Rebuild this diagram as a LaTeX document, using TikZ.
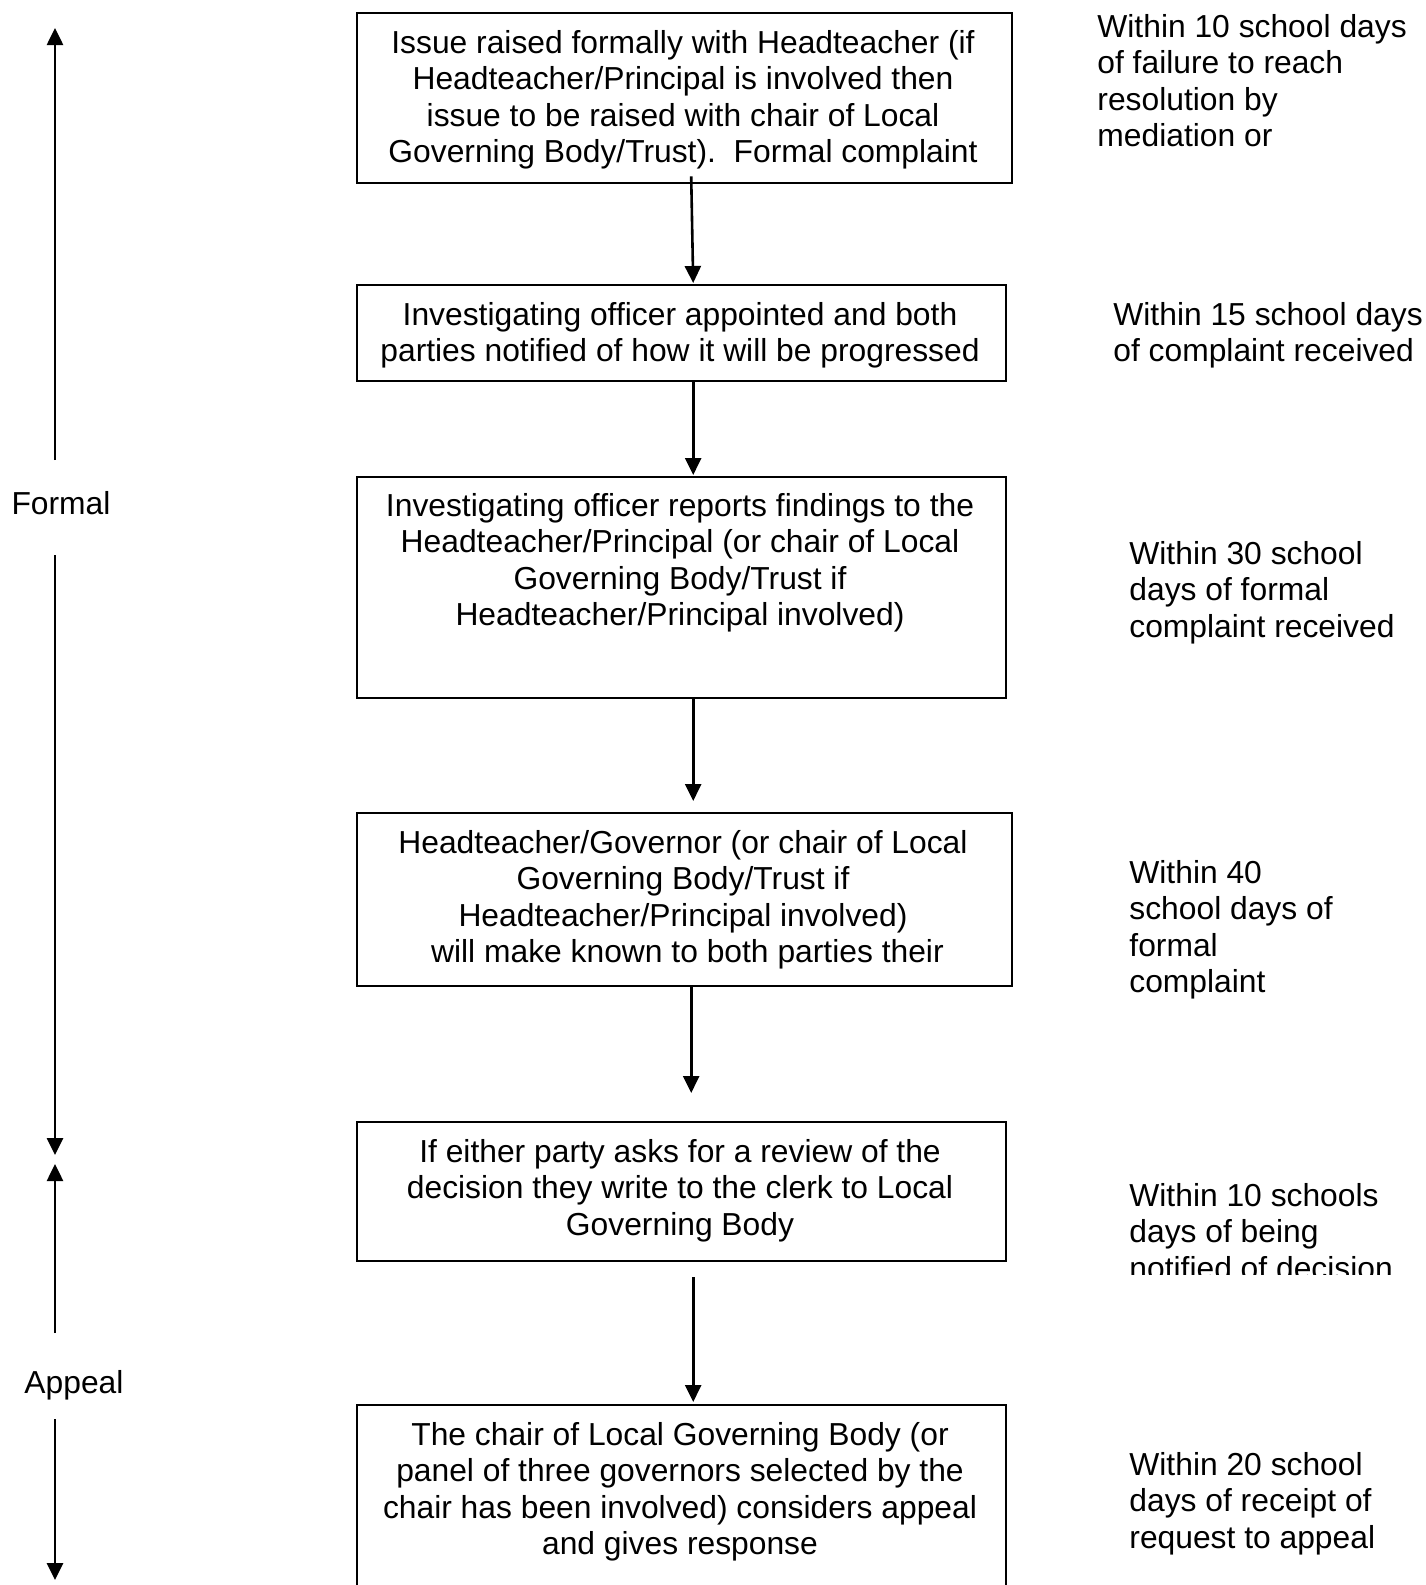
\documentclass[tikz,border=0pt]{standalone}
\usepackage{fontspec}
\setmainfont{Liberation Sans}
\usetikzlibrary{arrows.meta,calc}
\begin{document}
\begin{tikzpicture}[x=0.5pt,y=-0.5pt,
  every node/.style={font=\fontsize{15.9}{18.25}\selectfont, inner sep=0pt},
  box/.style={draw, line width=1.2pt, minimum width=#1, anchor=north west},
  boxtext/.style={align=center, anchor=north},
  side/.style={align=left, anchor=north west},
  arr/.style={line width=1.3pt, -{Triangle[length=8.5pt,width=8pt]}}]
\useasboundingbox (0,0) rectangle (1425,1585);
% boxes
\node[box=327.5pt, minimum height=85pt] (b1) at (356,12) {};
\node[box=324.5pt, minimum height=48pt] (b2) at (356,284) {};
\node[box=324.5pt, minimum height=110.5pt] (b3) at (356,476) {};
\node[box=327.5pt, minimum height=86.5pt] (b4) at (356,812) {};
\node[box=324.5pt, minimum height=69.5pt] (b5) at (356,1121) {};
\node[box=324.5pt, minimum height=110pt] (b6) at (356,1404) {};
% box texts
\node[boxtext] (t1) at (683,30) {Issue raised formally with Headteacher (if\\Headteacher/Principal is involved then\\issue to be raised with chair of Local\\Governing Body/Trust).\ \ Formal complaint};
\node[boxtext] (t2) at (680,302) {Investigating officer appointed and both\\parties notified of how it will be progressed};
\node[boxtext] (t3) at (680,493) {Investigating officer reports findings to the\\Headteacher/Principal (or chair of Local\\Governing Body/Trust if\\Headteacher/Principal involved)};
\node[boxtext] (t4) at (683,830) {Headteacher/Governor (or chair of Local\\Governing Body/Trust if\\Headteacher/Principal involved)\\\ will make known to both parties their};
\node[boxtext] (t5) at (680,1139) {If either party asks for a review of the\\decision they write to the clerk to Local\\Governing Body};
\node[boxtext] (t6) at (680,1422) {The chair of Local Governing Body (or\\panel of three governors selected by the\\chair has been involved) considers appeal\\and gives response};
% side texts
\node[side] (s1) at (1097,14) {Within 10 school days\\of failure to reach\\resolution by\\mediation or};
\node[side] (s2) at (1113,302) {Within 15 school days\\of complaint received};
\node[side] (s3) at (1129,541) {Within 30 school\\days of formal\\complaint received};
\node[side] (s4) at (1129,860) {Within 40\\school days of\\formal\\complaint};
\begin{scope}
\clip (1100,1165) rectangle (1425,1274);
\node[side] (s5) at (1129,1183) {Within 10 schools\\days of being\\notified of decision};
\end{scope}
\node[side] (s6) at (1129,1452) {Within 20 school\\days of receipt of\\request to appeal};
% left labels
\node (formal) at (61,503) {Formal};
\node (appeal) at (74,1385) {Appeal};
\coordinate (f1) at (55,460);
\coordinate (f2) at (55,28);
\coordinate (f3) at (55,555);
\coordinate (f4) at (55,1155);
\coordinate (a1) at (55,1333);
\coordinate (a2) at (55,1164);
\coordinate (a3) at (55,1419);
\coordinate (a4) at (55,1580);
\draw[arr] (f1) -- (f2);
\draw[arr] (f3) -- (f4);
\draw[arr] (a1) -- (a2);
\draw[arr] (a3) -- (a4);
% connectors
\draw[arr] ($(b1.south)+(6.5,-8)$) -- ($(b2.north)+(11.5,-1)$);
\draw[arr] ($(b2.south)+(11.5,0)$) -- ($(b3.north)+(11.5,-1)$);
\draw[arr] ($(b3.south)+(11.5,0)$) -- ($(b4.north)+(8.5,-11)$);
\draw[arr] ($(b4.south)+(6.5,0)$) -- ($(b5.north)+(9.5,-28)$);
\draw[arr] ($(b5.south)+(11.5,15)$) -- ($(b6.north)+(11.5,-2)$);
\end{tikzpicture}
\end{document}
